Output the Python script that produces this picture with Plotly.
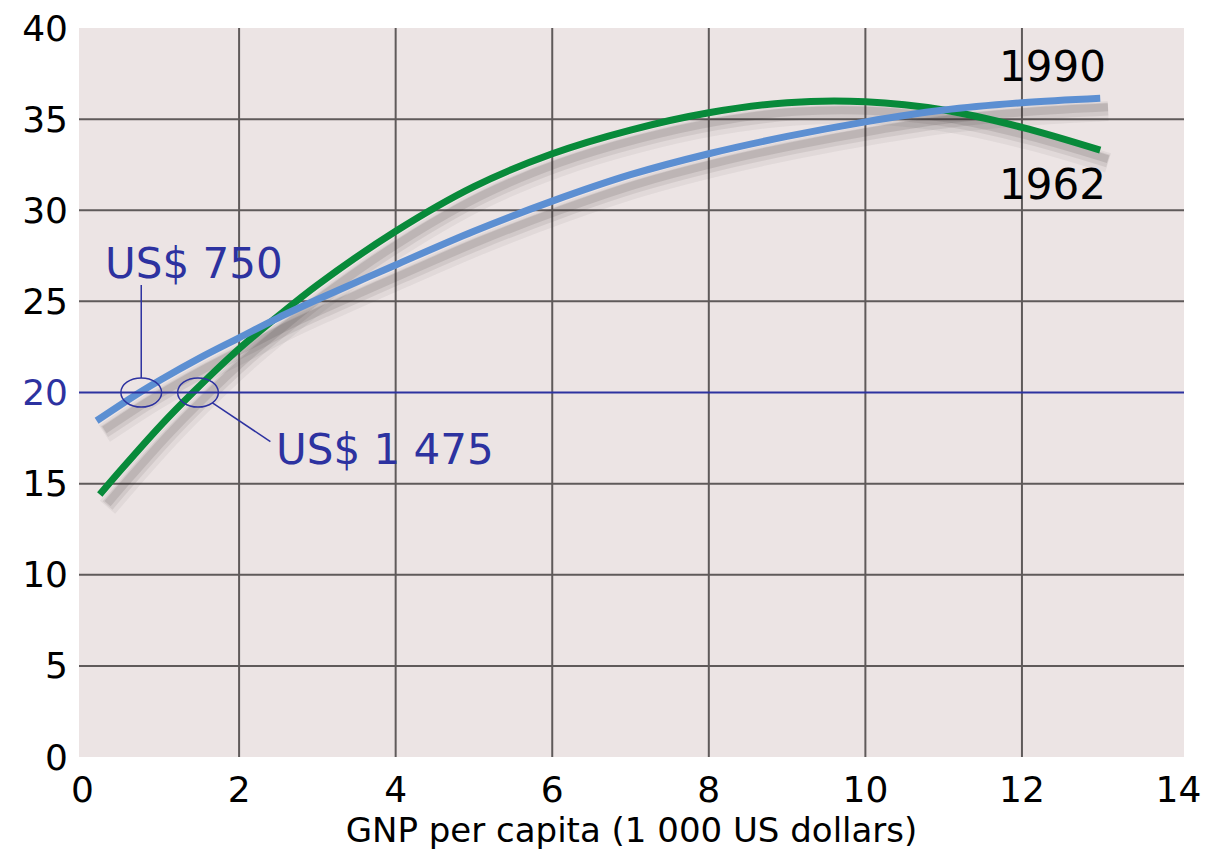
import plotly.graph_objects as go

# ---- data ----
x_1962 = [0.22, 0.5, 1, 1.41, 2, 2.5, 3, 4, 5, 6, 7, 8, 9, 10, 11, 12, 13]
y_1962 = [14.4, 15.8, 18.2, 20.0, 22.4, 24.2, 25.9, 28.85, 31.3, 33.1, 34.4, 35.35, 35.9, 35.95, 35.5, 34.55, 33.3]

x_1990 = [0.18, 0.73, 1, 1.5, 2, 2.5, 3, 4, 5, 6, 7, 8, 9, 10, 11, 12, 13]
y_1990 = [18.45, 20.0, 20.7, 21.9, 23.0, 24.1, 25.1, 27.0, 28.85, 30.5, 31.95, 33.1, 34.05, 34.85, 35.5, 35.9, 36.15]

threshold_y = 20
threshold_x = [0.75, 1.475]          # US$ 750 and US$ 1 475
threshold_labels = ["US$ 750", "US$ 1 475"]
series_labels = ["1990", "1962"]

x_ticks = [0, 2, 4, 6, 8, 10, 12, 14]
y_ticks = [0, 5, 10, 15, 20, 25, 30, 35, 40]

GREEN = "rgb(8,138,58)"
BLUE = "rgb(92,143,210)"
NAVY = "rgb(45,50,160)"
GRID = "rgb(95,90,90)"
BG = "rgb(236,228,228)"
FONT = "DejaVu Sans"

fig = go.Figure()

# soft drop shadows under the curves
for xs, ys in [(x_1962, y_1962), (x_1990, y_1990)]:
    for w, a, dy in [(20, 0.06, 0.7), (13, 0.09, 0.6), (8, 0.12, 0.5)]:
        fig.add_trace(go.Scatter(
            x=[v + 0.1 for v in xs], y=[v - dy for v in ys], mode="lines",
            line=dict(color=f"rgba(50,45,45,{a})", width=w, shape="spline"),
            hoverinfo="skip", showlegend=False))

fig.add_trace(go.Scatter(x=x_1962, y=y_1962, mode="lines", name="1962",
                         line=dict(color=GREEN, width=7, shape="spline"),
                         showlegend=False))
fig.add_trace(go.Scatter(x=x_1990, y=y_1990, mode="lines", name="1990",
                         line=dict(color=BLUE, width=7, shape="spline"),
                         showlegend=False))

# grid lines (interior only)
for v in x_ticks[1:-1]:
    fig.add_shape(type="line", xref="x", yref="paper", x0=v, x1=v, y0=0, y1=1,
                  line=dict(color=GRID, width=2), layer="below")
for v in y_ticks[1:-1]:
    if v == threshold_y:
        continue
    fig.add_shape(type="line", xref="paper", yref="y", x0=0, x1=1, y0=v, y1=v,
                  line=dict(color=GRID, width=2), layer="below")

# threshold line
fig.add_shape(type="line", xref="paper", yref="y", x0=0, x1=1,
              y0=threshold_y, y1=threshold_y, line=dict(color=NAVY, width=2))

# circles at thresholds
for tx in threshold_x:
    fig.add_shape(type="circle", xref="x", yref="y",
                  x0=tx - 0.26, x1=tx + 0.26, y0=threshold_y - 0.8, y1=threshold_y + 0.8,
                  line=dict(color=NAVY, width=1.5))

# leader lines
fig.add_shape(type="line", xref="x", yref="y",
              x0=threshold_x[0], x1=threshold_x[0], y0=threshold_y + 0.8, y1=25.9,
              line=dict(color=NAVY, width=1.5))
fig.add_shape(type="line", xref="x", yref="y",
              x0=threshold_x[1] + 0.18, x1=2.4, y0=threshold_y - 0.55, y1=17.3,
              line=dict(color=NAVY, width=1.5))

# labels
fig.add_annotation(x=0.26, y=27.1, text=threshold_labels[0], showarrow=False,
                   xanchor="left", yanchor="middle",
                   font=dict(family=FONT, size=42, color=NAVY))
fig.add_annotation(x=2.45, y=16.9, text=threshold_labels[1], showarrow=False,
                   xanchor="left", yanchor="middle",
                   font=dict(family=FONT, size=42, color=NAVY))
fig.add_annotation(x=13.1, y=37.9, text=series_labels[0], showarrow=False,
                   xanchor="right", yanchor="middle",
                   font=dict(family=FONT, size=42, color="black"))
fig.add_annotation(x=13.1, y=31.4, text=series_labels[1], showarrow=False,
                   xanchor="right", yanchor="middle",
                   font=dict(family=FONT, size=42, color="black"))

y_ticktext = [f"<span style='color:{NAVY}'>{v}</span>" if v == threshold_y else str(v)
              for v in y_ticks]

fig.update_layout(
    width=1209, height=856,
    margin=dict(l=79, r=25, t=28, b=99),
    paper_bgcolor="white", plot_bgcolor=BG,
    font=dict(family=FONT, size=36, color="black"),
    xaxis=dict(range=[-0.045, 14.07], tickvals=x_ticks, ticktext=[str(v) for v in x_ticks],
               showgrid=False, zeroline=False, showline=False, ticks="",
               ticklabelstandoff=8, automargin=False,
               title=dict(text="GNP per capita (1 000 US dollars)",
                          font=dict(family=FONT, size=34), standoff=8)),
    yaxis=dict(range=[0, 40], tickvals=y_ticks, ticktext=y_ticktext,
               showgrid=False, zeroline=False, showline=False, ticks="",
               ticklabelstandoff=10, automargin=False),
)

fig.write_html("out.html",
               config={"displayModeBar": False},
               post_script="document.body.style.margin='0';document.body.style.overflow='hidden';")
